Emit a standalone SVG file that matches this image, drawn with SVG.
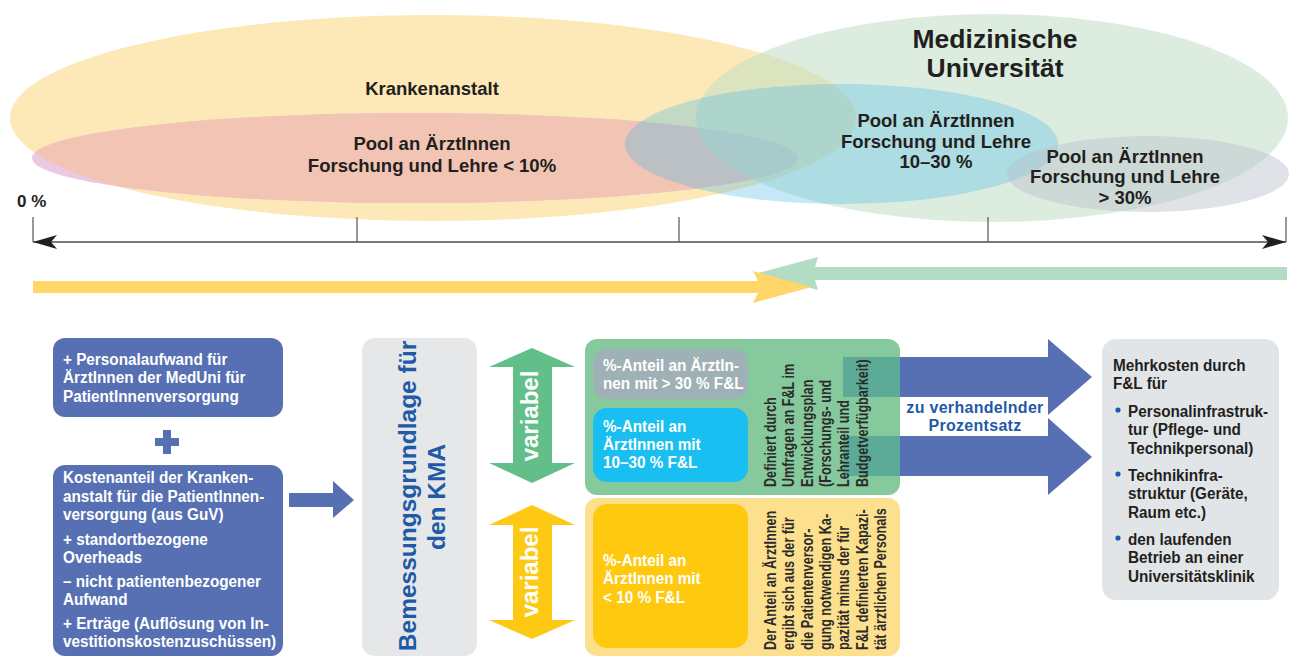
<svg xmlns="http://www.w3.org/2000/svg" width="1295" height="657" viewBox="0 0 1295 657">
<style>
text{font-family:"Liberation Sans",Arial,sans-serif;font-weight:bold}
.el{font-size:18.5px;fill:#231f20;text-anchor:middle}
.bx{font-size:17px;fill:#fff}
.dk{fill:#231f20}
.rot{font-size:16px;fill:#2b2b2b}
.blue{fill:#5670b3}
.var{font-size:24px;fill:#fff;text-anchor:middle}
</style>
<defs>
<clipPath id="yclip"><ellipse cx="433" cy="118" rx="423" ry="103"/></clipPath>
<marker id="ah" viewBox="-26 -8 27 16" refX="0" refY="0" markerWidth="27" markerHeight="16" markerUnits="userSpaceOnUse" orient="auto-start-reverse">
<path d="M0,0 L-24,-7 L-18,0 L-24,7 Z" fill="#231f20"/>
</marker>
</defs>
<rect width="1295" height="657" fill="#fff"/>

<g id="ellipses">
<ellipse cx="433" cy="118" rx="423" ry="103" fill="#fde9b7"/>
<ellipse cx="415" cy="158" rx="383" ry="45" fill="#ebc9e2"/>
<ellipse cx="415" cy="158" rx="383" ry="45" fill="#f1c4b4" clip-path="url(#yclip)"/>
<ellipse cx="992" cy="118" rx="296" ry="104" fill="#bfdec7" fill-opacity="0.55"/>
<ellipse cx="841.5" cy="144" rx="216.5" ry="60" fill="#4fb9e6" fill-opacity="0.33"/>
<ellipse cx="1148" cy="174" rx="141" ry="38" fill="#b8c2cb" fill-opacity="0.45"/>
</g>
<g id="ellipse-labels">
<text class="el" x="432" y="95">Krankenanstalt</text>
<text class="el" x="432" y="150">Pool an ÄrztInnen</text>
<text class="el" x="432" y="172">Forschung und Lehre &lt; 10%</text>
<text class="el" x="995" y="48" style="font-size:26.5px">Medizinische</text>
<text class="el" x="995" y="77" style="font-size:26.5px">Universität</text>
<text class="el" x="936" y="127">Pool an ÄrztInnen</text>
<text class="el" x="936" y="148">Forschung und Lehre</text>
<text class="el" x="936" y="168">10–30 %</text>
<text class="el" x="1125" y="163">Pool an ÄrztInnen</text>
<text class="el" x="1125" y="183">Forschung und Lehre</text>
<text class="el" x="1125" y="204">&gt; 30%</text>
<text class="dk" x="17" y="207" style="font-size:17px">0 %</text>
</g>

<g id="axis">
<line x1="33" y1="242" x2="1286" y2="242" stroke="#4d4d4d" stroke-width="1.5" marker-start="url(#ah)" marker-end="url(#ah)"/>
<g stroke="#555" stroke-width="1.2">
<line x1="33" y1="217" x2="33" y2="242"/>
<line x1="357" y1="217" x2="357" y2="242"/>
<line x1="679" y1="217" x2="679" y2="242"/>
<line x1="988" y1="217" x2="988" y2="242"/>
<line x1="1286" y1="217" x2="1286" y2="242"/>
</g>
</g>

<g id="range-arrows">
<polygon points="1287,267 815,267 818,257 758,273 818,290 815,280 1287,280" fill="#b3dcc4"/>
<polygon points="33,281 758,281 753,271 812,287 753,303 758,293 33,293" fill="#fed66a"/>
</g>

<g id="box-personal">
<rect x="53" y="338" width="230" height="79" rx="12" class="blue"/>
<text class="bx" transform="translate(63 0) scale(0.9 1)"><tspan x="0" y="365">+ Personalaufwand für</tspan><tspan x="0" y="383.5">ÄrztInnen der MedUni für</tspan><tspan x="0" y="402">PatientInnenversorgung</tspan></text>
</g>
<g id="plus">
<rect x="155" y="438" width="24" height="8" class="blue"/>
<rect x="163" y="430" width="8" height="24" class="blue"/>
</g>
<g id="box-kosten">
<rect x="53" y="465" width="230" height="191" rx="12" class="blue"/>
<text class="bx" transform="translate(63 0) scale(0.9 1)"><tspan x="0" y="483">Kostenanteil der Kranken-</tspan><tspan x="0" y="502">anstalt für die PatientInnen-</tspan><tspan x="0" y="520">versorgung (aus GuV)</tspan><tspan x="0" y="545">+ standortbezogene</tspan><tspan x="0" y="563">Overheads</tspan><tspan x="0" y="587">– nicht patientenbezogener</tspan><tspan x="0" y="605">Aufwand</tspan><tspan x="0" y="629">+ Erträge (Auflösung von In-</tspan><tspan x="0" y="647">vestitionskostenzuschüssen)</tspan></text>
</g>

<g id="box-bemessung">
<rect x="362" y="338" width="115" height="318" rx="13" fill="#e6e7e9"/>
<text transform="translate(416 496) rotate(-90)" style="font-size:24.5px;fill:#1f5aa7;text-anchor:middle">Bemessungsgrundlage für</text>
<text transform="translate(445 497) rotate(-90)" style="font-size:24.5px;fill:#1f5aa7;text-anchor:middle">den KMA</text>
</g>

<g id="variabel-green">
<polygon points="532,348 575,367 552,367 552,463 575,463 532,483 489,463 513,463 513,367 489,367" fill="#62bf89"/>
<text class="var" transform="translate(538 416) rotate(-90)">variabel</text>
</g>
<g id="variabel-yellow">
<polygon points="532,505 575,525 552,525 552,620 575,620 532,639 489,620 513,620 513,525 489,525" fill="#fdc915"/>
<text class="var" transform="translate(538 572) rotate(-90)">variabel</text>
</g>

<g id="connectors">
<polygon points="289,493 333,493 333,481 354,500 333,518 333,507 289,507" class="blue"/>
</g>

<g id="group-green">
<rect x="585" y="339" width="315" height="156" rx="12" fill="#86c99d"/>
<rect x="593" y="349" width="155" height="50" rx="14" fill="#9fb1b6"/>
<text class="bx" transform="translate(603 0) scale(0.9 1)"><tspan x="0" y="371">%-Anteil an ÄrztIn-</tspan><tspan x="0" y="389">nen mit &gt; 30 % F&amp;L</tspan></text>
<rect x="593" y="408" width="155" height="74" rx="14" fill="#18bff0"/>
<text class="bx" transform="translate(603 0) scale(0.9 1)"><tspan x="0" y="432">%-Anteil an</tspan><tspan x="0" y="450">ÄrztInnen mit</tspan><tspan x="0" y="468">10–30 % F&amp;L</tspan></text>
</g>

<g id="arrows-mehrkosten">
<polygon points="843,357 1048,357 1048,339 1092,377 1048,415 1048,397 843,397" class="blue"/>
<polygon points="843,436 1048,436 1048,418 1092,457 1048,495 1048,476 843,476" class="blue"/>
<rect x="843" y="357" width="57" height="40" fill="#5cab97"/>
<rect x="843" y="436" width="57" height="40" fill="#5cab97"/>
<text x="975" y="413" style="font-size:16px;fill:#1f5aa7;text-anchor:middle;letter-spacing:0.3px">zu verhandelnder</text>
<text x="975" y="431" style="font-size:16px;fill:#1f5aa7;text-anchor:middle;letter-spacing:0.3px">Prozentsatz</text>
</g>

<g id="green-note">
<text class="rot" transform="translate(776 487) rotate(-90) scale(0.79 1)">Definiert durch</text>
<text class="rot" transform="translate(794.3 487) rotate(-90) scale(0.79 1)">Umfragen an F&amp;L im</text>
<text class="rot" transform="translate(812.6 487) rotate(-90) scale(0.79 1)">Entwicklungsplan</text>
<text class="rot" transform="translate(830.9 487) rotate(-90) scale(0.79 1)">(Forschungs- und</text>
<text class="rot" transform="translate(849.2 487) rotate(-90) scale(0.79 1)">Lehranteil und</text>
<text class="rot" transform="translate(867.5 487) rotate(-90) scale(0.79 1)">Budgetverfügbarkeit)</text>
</g>

<g id="group-yellow">
<rect x="585" y="498" width="315" height="158" rx="12" fill="#fde08e"/>
<rect x="593" y="504" width="155" height="144" rx="14" fill="#fec90f"/>
<text class="bx" transform="translate(603 0) scale(0.9 1)"><tspan x="0" y="566">%-Anteil an</tspan><tspan x="0" y="584">ÄrztInnen mit</tspan><tspan x="0" y="603">&lt; 10 % F&amp;L</tspan></text>
<text class="rot" transform="translate(776 650) rotate(-90) scale(0.79 1)">Der Anteil an ÄrztInnen</text>
<text class="rot" transform="translate(794.3 650) rotate(-90) scale(0.79 1)">ergibt sich aus der für</text>
<text class="rot" transform="translate(812.6 650) rotate(-90) scale(0.79 1)">die Patientenversor-</text>
<text class="rot" transform="translate(830.9 650) rotate(-90) scale(0.79 1)">gung notwendigen Ka-</text>
<text class="rot" transform="translate(849.2 650) rotate(-90) scale(0.79 1)">pazität minus der für</text>
<text class="rot" transform="translate(867.5 650) rotate(-90) scale(0.79 1)">F&amp;L definierten Kapazi-</text>
<text class="rot" transform="translate(885.8 650) rotate(-90) scale(0.79 1)">tät ärztlichen Personals</text>
</g>

<g id="box-mehrkosten">
<rect x="1102" y="339" width="177" height="261" rx="14" fill="#e2e5e8"/>
<text class="dk" style="font-size:17px" transform="translate(1113 0) scale(0.9 1)"><tspan x="0" y="371">Mehrkosten durch</tspan><tspan x="0" y="389">F&amp;L für</tspan></text>
<g fill="#1f5aa7">
<circle cx="1118" cy="410" r="2.6"/>
<circle cx="1118" cy="474" r="2.6"/>
<circle cx="1118" cy="538" r="2.6"/>
</g>
<text class="dk" style="font-size:17px" transform="translate(1128 0) scale(0.9 1)"><tspan x="0" y="417">Personalinfrastruk-</tspan><tspan x="0" y="435">tur (Pflege- und</tspan><tspan x="0" y="454">Technikpersonal)</tspan><tspan x="0" y="481">Technikinfra-</tspan><tspan x="0" y="499">struktur (Geräte,</tspan><tspan x="0" y="518">Raum etc.)</tspan><tspan x="0" y="545">den laufenden</tspan><tspan x="0" y="563">Betrieb an einer</tspan><tspan x="0" y="582">Universitätsklinik</tspan></text>
</g>
</svg>
